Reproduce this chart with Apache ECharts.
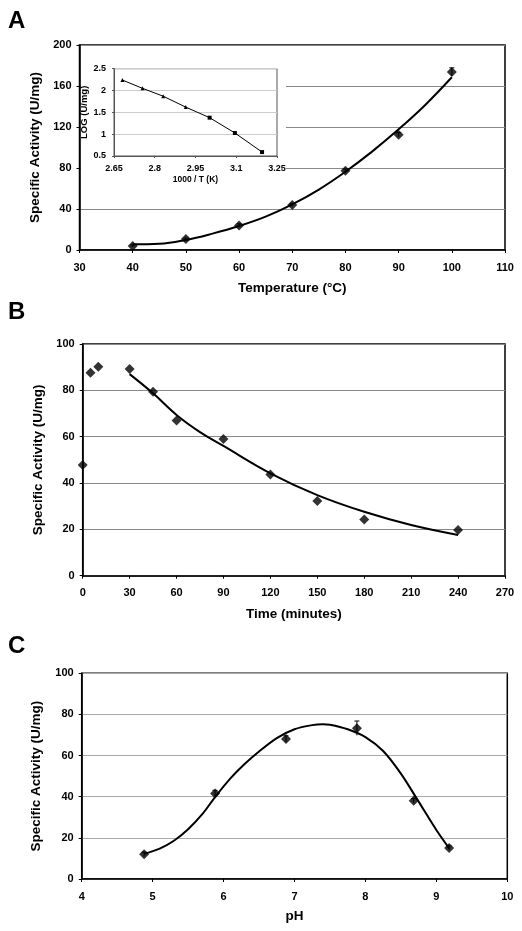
<!DOCTYPE html>
<html>
<head>
<meta charset="utf-8">
<script src="https://cdn.jsdelivr.net/npm/echarts@6/dist/echarts.min.js"></script>
<style>
html,body{margin:0;padding:0;background:#fff;}
#c{width:522px;height:931px;}
</style>
</head>
<body>
<div id="c"></div>
<script>
// Panel A: temperature
const tempC = [40, 50, 60, 70, 80, 90, 100];
const tempActivity = [3.9, 10.7, 24, 43.9, 77.4, 112.5, 173.7];
const tempError = [1, 1, 1.5, 1.5, 1.5, 2, 4];
const tempFitX = [40, 45, 50, 55, 60, 65, 70, 75, 80, 85, 90, 95, 100];
const tempFitY = [5.5, 6, 9.8, 16, 23.4, 32.5, 44.5, 59, 76.4, 96, 117.7, 141.5, 168.5];
// Inset: Arrhenius
const invT = [2.681, 2.755, 2.831, 2.914, 3.002, 3.095, 3.195];
const logActivity = [2.24, 2.05, 1.87, 1.62, 1.378, 1.027, 0.59];
const invTSymbols = ['triangle', 'triangle', 'triangle', 'triangle', 'rect', 'rect', 'rect'];
// Panel B: time
const timeMin = [0, 5, 10, 30, 45, 60, 90, 120, 150, 180, 240];
const timeActivity = [47.8, 87.6, 90.2, 89.2, 79.4, 67, 59, 43.7, 32.2, 24.3, 19.7];
const timeFitX = [30, 45, 60, 75, 90, 120, 150, 180, 210, 240];
const timeFitY = [87, 78.7, 69.4, 62, 56, 44.2, 34.8, 27.6, 21.9, 17.6];
// Panel C: pH
const phVals = [4.88, 5.88, 6.88, 7.88, 8.68, 9.18];
const phActivity = [12, 41.6, 68.1, 73.3, 38.1, 15.1];
const phError = [1, 1.5, 1.5, 3.5, 1, 1];
const phFitX = [4.88, 5.1, 5.3, 5.5, 5.7, 5.88, 6.1, 6.3, 6.5, 6.75, 7, 7.25, 7.4, 7.5, 7.75, 8, 8.25, 8.5, 8.75, 9, 9.18];
const phFitY = [12.2, 14.8, 18.6, 24.2, 31.5, 39.8, 49, 56, 62, 68.5, 72.8, 74.8, 75.2, 75, 72.8, 69, 62.2, 51.2, 37.6, 23.8, 14.9];

const FF = "'Liberation Sans', Arial, sans-serif";
const zip = (a, b) => a.map((v, i) => [v, b[i]]);
const zip3 = (a, b, c) => a.map((v, i) => [v, b[i], c[i]]);

function errRender(params, api) {
  const x = api.value(0), y = api.value(1), e = api.value(2);
  const top = api.coord([x, y + e]);
  const bot = api.coord([x, y - e]);
  return {
    type: 'group',
    children: [
      {type: 'line', shape: {x1: top[0], y1: top[1], x2: bot[0], y2: bot[1]}, style: {stroke: '#000', lineWidth: 1}},
      {type: 'line', shape: {x1: top[0] - 2.5, y1: top[1], x2: top[0] + 2.5, y2: top[1]}, style: {stroke: '#000', lineWidth: 1}}
    ]
  };
}

function mainX(idx, min, max, interval, name, gap) {
  return {
    gridIndex: idx, type: 'value', min: min, max: max, interval: interval,
    name: name, nameLocation: 'middle', nameGap: gap,
    nameTextStyle: {fontFamily: FF, fontWeight: 'bold', fontSize: 13.5, color: '#000'},
    axisLine: {show: true, lineStyle: {color: '#000', width: 1.5}},
    axisTick: {show: true, length: 3, lineStyle: {color: '#000'}},
    axisLabel: {fontFamily: FF, fontWeight: 'bold', fontSize: 11, color: '#000', margin: 12},
    splitLine: {show: false}
  };
}
function mainY(idx, min, max, interval, gap, gridColor) {
  return {
    gridIndex: idx, type: 'value', min: min, max: max, interval: interval,
    name: 'Specific Activity (U/mg)', nameLocation: 'middle', nameGap: gap,
    nameTextStyle: {fontFamily: FF, fontWeight: 'bold', fontSize: 13.5, color: '#000'},
    axisLine: {show: true, lineStyle: {color: '#000', width: 1.5}},
    axisTick: {show: true, length: 3, lineStyle: {color: '#000'}},
    axisLabel: {fontFamily: FF, fontWeight: 'bold', fontSize: 11, color: '#000', margin: 8},
    splitLine: {show: true, lineStyle: {color: gridColor, width: 1}}
  };
}

function fitLine(xi, yi, xs, ys, sm) {
  return {type: 'line', xAxisIndex: xi, yAxisIndex: yi, data: zip(xs, ys), smooth: sm,
    showSymbol: false, lineStyle: {color: '#000', width: 2}, z: 3};
}

const chart = echarts.init(document.getElementById('c'), null, {renderer: 'canvas'});
const option = {
  backgroundColor: '#fff',
  animation: false,
  grid: [
    {left: 79.5, top: 45, width: 425.5, height: 205, show: true, borderColor: '#000', borderWidth: 1.5, backgroundColor: 'transparent'},
    {left: 114, top: 68.7, width: 163, height: 87.3, show: true, borderColor: '#555', borderWidth: 1, backgroundColor: '#fff', z: 10},
    {left: 82.7, top: 344, width: 422.3, height: 231.7, show: true, borderColor: '#000', borderWidth: 1.5, backgroundColor: 'transparent'},
    {left: 81.7, top: 673.3, width: 425.6, height: 205.7, show: true, borderColor: '#000', borderWidth: 1.5, backgroundColor: 'transparent'}
  ],
  xAxis: [
    mainX(0, 30, 110, 10, 'Temperature (°C)', 31),
    {
      gridIndex: 1, type: 'value', min: 2.65, max: 3.25, interval: 0.15, z: 11,
      name: '1000 / T (K)', nameLocation: 'middle', nameGap: 19,
      nameTextStyle: {fontFamily: FF, fontWeight: 'bold', fontSize: 8.5, color: '#000'},
      axisLine: {show: true, lineStyle: {color: '#555', width: 1}},
      axisTick: {show: true, length: 2, lineStyle: {color: '#555'}},
      axisLabel: {fontFamily: FF, fontWeight: 'bold', fontSize: 9, color: '#000', margin: 8},
      splitLine: {show: false}
    },
    mainX(2, 0, 270, 30, 'Time (minutes)', 32),
    mainX(3, 4, 10, 1, 'pH', 30)
  ],
  yAxis: [
    mainY(0, 0, 200, 40, 25, '#888'),
    {
      gridIndex: 1, type: 'value', min: 0.5, max: 2.5, interval: 0.5, z: 11,
      name: 'LOG (U/mg)', nameLocation: 'middle', nameGap: 21,
      nameTextStyle: {fontFamily: FF, fontWeight: 'bold', fontSize: 9.5, color: '#000'},
      axisLine: {show: true, lineStyle: {color: '#555', width: 1}},
      axisTick: {show: true, length: 2, lineStyle: {color: '#555'}},
      axisLabel: {fontFamily: FF, fontWeight: 'bold', fontSize: 9, color: '#000', margin: 8},
      splitLine: {show: true, lineStyle: {color: '#ccc', width: 1}}
    },
    mainY(2, 0, 100, 20, 37, '#888'),
    mainY(3, 0, 100, 20, 38, '#aaa')
  ],
  graphic: [
    {type: 'rect', left: 81, top: 52, z: 5, shape: {width: 205, height: 133}, style: {fill: '#fff'}},
    {type: 'text', left: 8, top: 9, z: 20, style: {text: 'A', font: 'bold 24px ' + FF, fill: '#000'}},
    {type: 'text', left: 8, top: 300, z: 20, style: {text: 'B', font: 'bold 24px ' + FF, fill: '#000'}},
    {type: 'text', left: 8, top: 634, z: 20, style: {text: 'C', font: 'bold 24px ' + FF, fill: '#000'}}
  ],
  series: [
    // Panel A
    fitLine(0, 0, tempFitX, tempFitY, 0.4),
    {type: 'custom', xAxisIndex: 0, yAxisIndex: 0, renderItem: errRender, data: zip3(tempC, tempActivity, tempError), encode: {x: 0, y: 1}, z: 4},
    {type: 'scatter', xAxisIndex: 0, yAxisIndex: 0, data: zip(tempC, tempActivity), symbol: 'diamond', symbolSize: 10, itemStyle: {color: '#000'}, z: 5},
    // Inset
    {type: 'line', xAxisIndex: 1, yAxisIndex: 1, z: 12,
     data: invT.map((v, i) => ({value: [v, logActivity[i]], symbol: invTSymbols[i], symbolSize: 4})),
     showSymbol: true, showAllSymbol: true, itemStyle: {color: '#000'}, lineStyle: {color: '#000', width: 1}},
    // Panel B
    fitLine(2, 2, timeFitX, timeFitY, 0.4),
    {type: 'scatter', xAxisIndex: 2, yAxisIndex: 2, data: zip(timeMin, timeActivity), symbol: 'diamond', symbolSize: 10, itemStyle: {color: '#000'}, z: 5},
    // Panel C
    fitLine(3, 3, phFitX, phFitY, 0.3),
    {type: 'custom', xAxisIndex: 3, yAxisIndex: 3, renderItem: errRender, data: zip3(phVals, phActivity, phError), encode: {x: 0, y: 1}, z: 4},
    {type: 'scatter', xAxisIndex: 3, yAxisIndex: 3, data: zip(phVals, phActivity), symbol: 'diamond', symbolSize: 10, itemStyle: {color: '#000'}, z: 5}
  ]
};
chart.setOption(option);
</script>
</body>
</html>
